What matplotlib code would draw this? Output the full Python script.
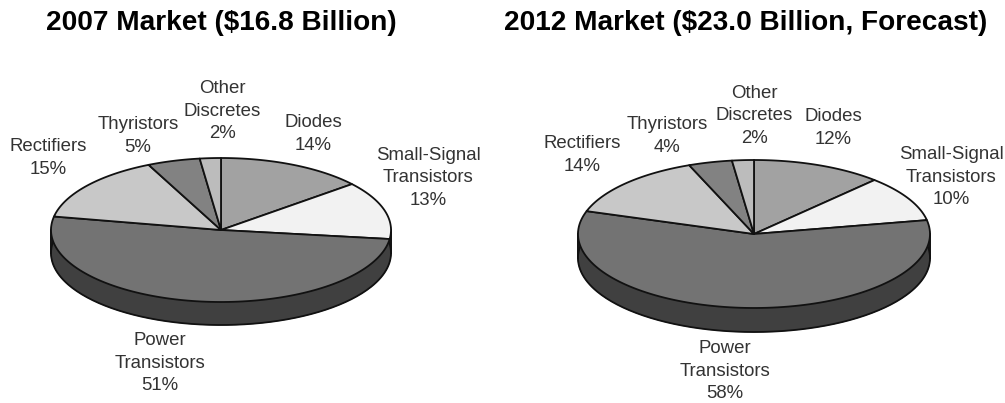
import matplotlib
matplotlib.use("Agg")
import matplotlib.pyplot as plt
import numpy as np

plt.rcParams['font.family'] = ['Liberation Sans', 'DejaVu Sans']

W, H = 1005, 403
categories = ["Diodes", "Small-Signal\nTransistors", "Power\nTransistors", "Rectifiers", "Thyristors", "Other\nDiscretes"]
values_2007 = [14, 13, 51, 15, 5, 2]
values_2012 = [12, 10, 58, 14, 4, 2]
title_2007 = "2007 Market ($16.8 Billion)"
title_2012 = "2012 Market ($23.0 Billion, Forecast)"
colors = ["#a2a2a2", "#f2f2f2", "#737373", "#c8c8c8", "#828282", "#bcbcbc"]
side_color = "#404040"
edge = "#111111"

fig = plt.figure(figsize=(W / 100, H / 100), dpi=100)
ax = fig.add_axes([0, 0, 1, 1])
ax.set_xlim(0, W)
ax.set_ylim(H, 0)
ax.axis("off")


def pie3d(values, cx, cy, rx, ry, depth, label_pos, title, title_x, title_y):
    total = sum(values)
    # side wall: stacked dark copies of the top ellipse
    t = np.linspace(0, 2 * np.pi, 361)
    for d in np.arange(depth, 0, -1):
        ax.fill(cx + rx * np.cos(t), cy + d + ry * np.sin(t), color=side_color, lw=0.6, zorder=2)
    ax.plot(cx + rx * np.cos(t), cy + depth + ry * np.sin(t), color=edge, lw=1.3, zorder=2)
    ax.plot([cx - rx, cx - rx], [cy, cy + depth], color=edge, lw=1.3, zorder=2)
    ax.plot([cx + rx, cx + rx], [cy, cy + depth], color=edge, lw=1.3, zorder=2)
    # top face: clockwise from 12 o'clock
    start = 0.0
    for v, c in zip(values, colors):
        a = np.linspace(start, start + v / total * 2 * np.pi, 120)
        xs = np.r_[cx, cx + rx * np.sin(a)]
        ys = np.r_[cy, cy - ry * np.cos(a)]
        ax.fill(xs, ys, facecolor=c, edgecolor=edge, lw=1.3, zorder=3, joinstyle="round")
        start += v / total * 2 * np.pi
    for name, v, (lx, ly) in zip(categories, values, label_pos):
        ax.text(lx, ly, f"{name}\n{v}%", ha="center", va="center", fontsize=13.4,
                color="#333333", linespacing=1.39, zorder=4)
    ax.text(title_x, title_y, title, ha="center", va="center", fontsize=20.2,
            fontweight="bold", color="black")


pie3d(values_2007, 221, 230, 170, 72, 23,
      [(313, 134), (428, 178), (160, 363), (48, 158), (138, 136), (222, 111)],
      title_2007, 221, 23)
pie3d(values_2012, 754, 234, 176, 74, 24,
      [(833, 128), (951, 177), (725, 371), (582, 155), (667, 136), (754, 116)],
      title_2012, 746, 23)

fig.savefig("out.png", dpi=100)
